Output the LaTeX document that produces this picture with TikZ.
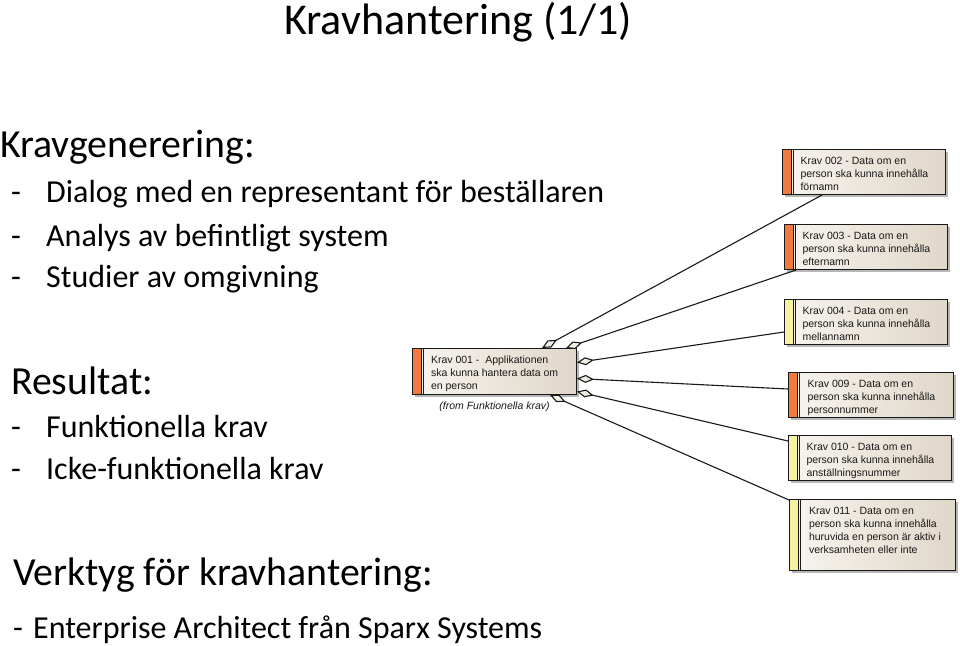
\documentclass[tikz,border=0pt]{standalone}
\usepackage{fontspec}
\setmainfont{Carlito}
\newfontfamily\reqfont{Liberation Sans}
\usetikzlibrary{arrows.meta, positioning, calc, shadows}
\definecolor{ReqOrange}{RGB}{242,122,62}
\definecolor{ReqYellow}{RGB}{246,242,164}
\definecolor{ReqLight}{RGB}{247,244,239}
\definecolor{ReqDark}{RGB}{224,215,201}
\definecolor{DiamondFill}{RGB}{243,238,228}
\definecolor{ReqText}{RGB}{25,25,25}
\newcommand{\reqbody}[2][33pt]{\hspace*{14pt}\parbox[c][#1][t]{141pt}{\raggedright\strut #2}}

\begin{document}
\begin{tikzpicture}[
    x=1pt, y=-1pt,
    heading/.style={anchor=base west, inner sep=0pt, font=\fontsize{39.8}{46}\selectfont},
    item/.style={anchor=base west, inner sep=0pt, font=\fontsize{32}{38}\selectfont},
    req/.style={draw=black!90, line width=1pt, anchor=north west, inner xsep=4pt, inner ysep=6pt,
        left color=ReqLight, right color=ReqDark, text=ReqText,
        font=\reqfont\fontsize{10.5}{13}\selectfont,
        drop shadow={shadow xshift=2.5pt, shadow yshift=-2.5pt, fill=black!40, opacity=0.7},
        path picture={
            \fill[#1] (path picture bounding box.north west) rectangle ([xshift=9pt]path picture bounding box.south west);
            \draw[line width=0.9pt] ([xshift=9.4pt]path picture bounding box.north west) -- ([xshift=9.4pt]path picture bounding box.south west);
            \draw[line width=0.9pt] ([xshift=11.4pt]path picture bounding box.north west) -- ([xshift=11.4pt]path picture bounding box.south west);
        }},
    agg/.style={{Diamond[length=17pt, width=8pt, fill=DiamondFill]}-, line width=1.1pt, draw=black!90}
]
\path[use as bounding box, fill=white] (0,0) rectangle (960,645);

% rubrik och punktlistor
\node[anchor=base, inner sep=0pt, font=\fontsize{44}{52}\selectfont] (title) at (458,34) {Kravhantering (1/1)};
\node[heading] (gen) at (0,157) {Kravgenerering:};
\node[item] (gen1) at (11,202) {\makebox[35pt][l]{-}Dialog med en representant för beställaren};
\node[item] (gen2) at (11,246) {\makebox[35pt][l]{-}Analys av befintligt system};
\node[item] (gen3) at (11,287) {\makebox[35pt][l]{-}Studier av omgivning};
\node[heading] (res) at (11,394) {Resultat:};
\node[item] (res1) at (11,437) {\makebox[35pt][l]{-}Funktionella krav};
\node[item] (res2) at (11,479) {\makebox[35pt][l]{-}Icke-funktionella krav};
\node[heading] (tool) at (13,585) {Verktyg för kravhantering:};
\node[item] (tool1) at (13,638) {\makebox[20pt][l]{-}Enterprise Architect från Sparx Systems};

% kravdiagram
\node[req=ReqOrange, minimum width=164pt] (k001) at (412,348) {\reqbody[34pt]{Krav 001 -~ Applikationen\\ska kunna hantera data om\\en person}};
\node[below=7pt of k001, inner sep=0pt, text=ReqText, font=\reqfont\itshape\fontsize{10.5}{13}\selectfont] (k001from) {(from Funktionella krav)};
\node[req=ReqOrange] (k002) at (782,149) {\reqbody{Krav 002 - Data om en\\person ska kunna innehålla\\förnamn}};
\node[req=ReqOrange] (k003) at (784,224) {\reqbody{Krav 003 - Data om en\\person ska kunna innehålla\\efternamn}};
\node[req=ReqYellow] (k004) at (784,299) {\reqbody{Krav 004 - Data om en\\person ska kunna innehålla\\mellannamn}};
\node[req=ReqOrange, minimum width=165pt] (k009) at (788,372) {\reqbody{Krav 009 - Data om en\\person ska kunna innehålla\\personnummer}};
\node[req=ReqYellow] (k010) at (788,435) {\reqbody{Krav 010 - Data om en\\person ska kunna innehålla\\anställningsnummer}};
\node[req=ReqYellow, minimum width=166pt] (k011) at (789,499) {\reqbody[59pt]{Krav 011 - Data om en\\person ska kunna innehålla\\huruvida en person är aktiv i\\verksamheten eller inte}};

\draw[agg] ([xshift=130pt]k001.north west) -- ([xshift=40pt]k002.south west);
\draw[agg] ([xshift=154pt]k001.north west) -- ([xshift=12pt]k003.south west);
\draw[agg] ([yshift=9pt]k001.east) -- ([yshift=-10pt]k004.west);
\draw[agg] ([yshift=-7pt]k001.east) -- ([yshift=6pt]k009.west);
\draw[agg] ([yshift=-20pt]k001.east) -- ([yshift=17pt]k010.west);
\draw[agg] ([xshift=138pt]k001.south west) -- ([yshift=-1pt]k011.north west);
\end{tikzpicture}
\end{document}
